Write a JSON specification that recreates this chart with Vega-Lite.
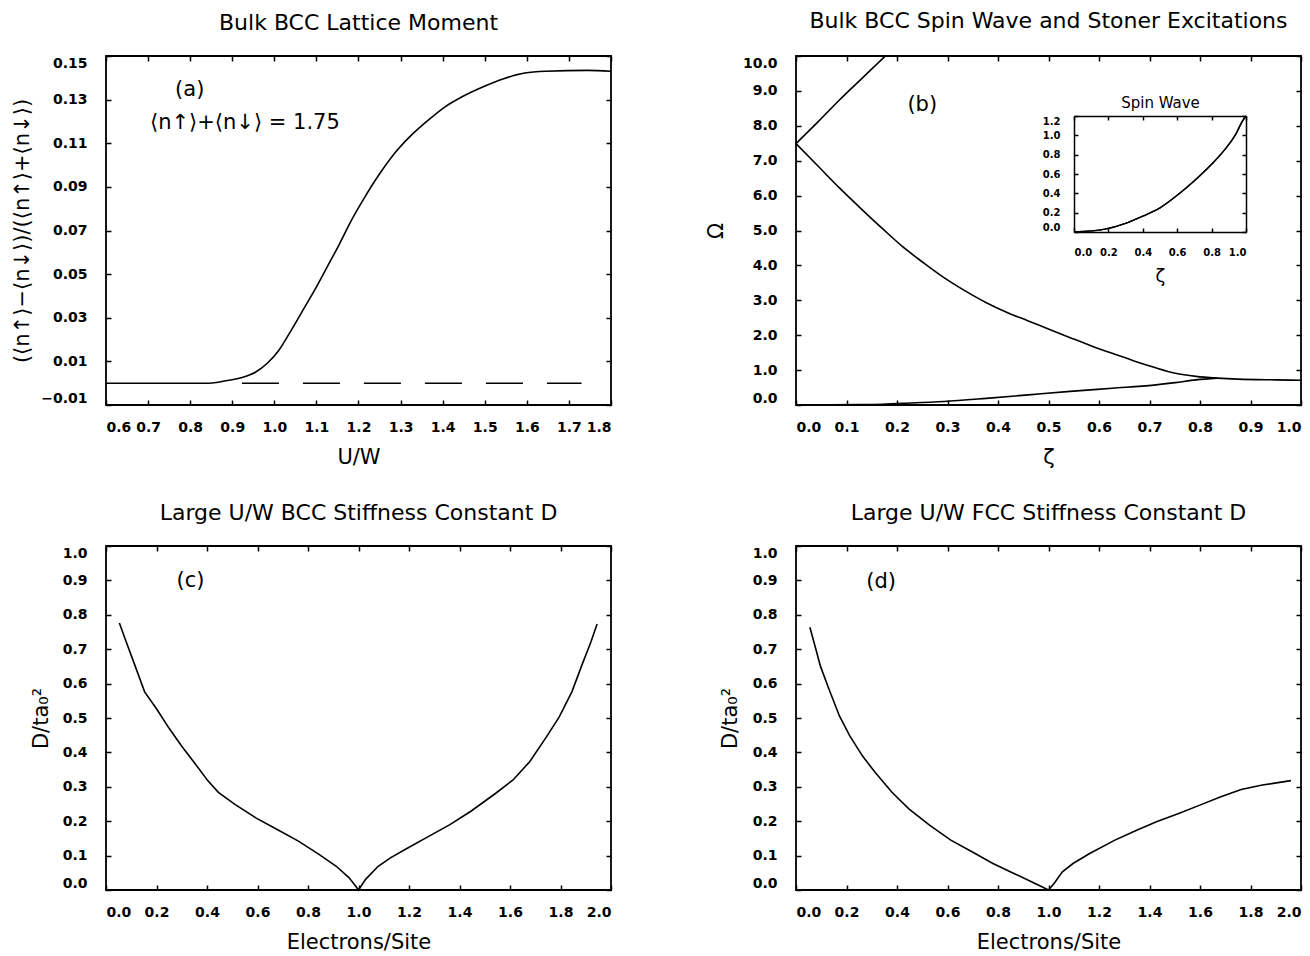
{
  "$schema": "https://vega.github.io/schema/vega-lite/v6.json",
  "background": "white",
  "padding": {"left": 10, "top": 8, "right": 5, "bottom": 0},
  "bounds": "flush",
  "columns": 2,
  "spacing": {"row": 141, "column": 185},
  "config": {
    "view": {"stroke": "black", "strokeWidth": 1.8},
    "axis": {
      "domain": false, "grid": false, "ticks": true, "tickSize": -5, "tickWidth": 1.5, "tickColor": "black",
      "labelFont": "DejaVu Sans", "labelFontWeight": "bold", "labelFontSize": 14, "labelColor": "black",
      "labelFlush": true, "labelOverlap": false,
      "titleFont": "DejaVu Sans", "titleFontWeight": "normal", "titleFontSize": 21, "titleColor": "black"
    },
    "axisX": {"labelPadding": 20, "titlePadding": 12},
    "axisY": {"labelPadding": 24},
    "title": {"font": "DejaVu Sans", "fontSize": 22, "fontWeight": "normal", "color": "black", "offset": 20, "anchor": "middle"},
    "line": {"color": "black", "strokeWidth": 1.6},
    "text": {"font": "DejaVu Sans", "fontSize": 21, "color": "black", "align": "center", "baseline": "middle"}
  },
  "datasets": {
    "a_solid": [
      {"x": 0.6, "y": 0.0}, {"x": 0.845, "y": 0.0}, {"x": 0.885, "y": 0.0011}, {"x": 0.925, "y": 0.0027},
      {"x": 0.955, "y": 0.005}, {"x": 0.985, "y": 0.0095}, {"x": 1.01, "y": 0.0149}, {"x": 1.035, "y": 0.0226},
      {"x": 1.065, "y": 0.0325}, {"x": 1.095, "y": 0.0424}, {"x": 1.125, "y": 0.0531}, {"x": 1.155, "y": 0.0639},
      {"x": 1.185, "y": 0.0753}, {"x": 1.215, "y": 0.0853}, {"x": 1.245, "y": 0.0945}, {"x": 1.285, "y": 0.1052},
      {"x": 1.325, "y": 0.1136}, {"x": 1.365, "y": 0.1205}, {"x": 1.405, "y": 0.1266}, {"x": 1.445, "y": 0.1312},
      {"x": 1.495, "y": 0.1358}, {"x": 1.545, "y": 0.1396}, {"x": 1.595, "y": 0.1422}, {"x": 1.645, "y": 0.143},
      {"x": 1.745, "y": 0.1434}, {"x": 1.8, "y": 0.143}
    ],
    "a_dash": [{"x": 0.923, "y": 0.0}, {"x": 1.73, "y": 0.0}],
    "a_text": [
      {"x": 0.799, "y": 0.1344, "t": "(a)"},
      {"x": 0.93, "y": 0.1192, "t": "⟨n↑⟩+⟨n↓⟩  =  1.75"}
    ],
    "b_main": [
      {"s": "A", "x": 0.0, "y": 7.49}, {"s": "A", "x": 0.044, "y": 8.12}, {"s": "A", "x": 0.086, "y": 8.74},
      {"s": "A", "x": 0.127, "y": 9.31}, {"s": "A", "x": 0.177, "y": 10.0},
      {"s": "B", "x": 0.0, "y": 7.49}, {"s": "B", "x": 0.044, "y": 6.84}, {"s": "B", "x": 0.086, "y": 6.22},
      {"s": "B", "x": 0.127, "y": 5.65}, {"s": "B", "x": 0.173, "y": 5.03}, {"s": "B", "x": 0.21, "y": 4.55},
      {"s": "B", "x": 0.252, "y": 4.08}, {"s": "B", "x": 0.293, "y": 3.65}, {"s": "B", "x": 0.335, "y": 3.27},
      {"s": "B", "x": 0.377, "y": 2.93}, {"s": "B", "x": 0.418, "y": 2.65}, {"s": "B", "x": 0.46, "y": 2.41},
      {"s": "B", "x": 0.501, "y": 2.17}, {"s": "B", "x": 0.543, "y": 1.93}, {"s": "B", "x": 0.584, "y": 1.7},
      {"s": "B", "x": 0.626, "y": 1.48}, {"s": "B", "x": 0.668, "y": 1.27}, {"s": "B", "x": 0.709, "y": 1.08},
      {"s": "B", "x": 0.751, "y": 0.91}, {"s": "B", "x": 0.792, "y": 0.82}, {"s": "B", "x": 0.834, "y": 0.77},
      {"s": "B", "x": 0.875, "y": 0.74}, {"s": "B", "x": 0.95, "y": 0.72}, {"s": "B", "x": 1.0, "y": 0.71},
      {"s": "C", "x": 0.0, "y": 0.0}, {"s": "C", "x": 0.127, "y": 0.01}, {"s": "C", "x": 0.21, "y": 0.05},
      {"s": "C", "x": 0.293, "y": 0.1}, {"s": "C", "x": 0.377, "y": 0.19}, {"s": "C", "x": 0.46, "y": 0.29},
      {"s": "C", "x": 0.543, "y": 0.39}, {"s": "C", "x": 0.626, "y": 0.48}, {"s": "C", "x": 0.709, "y": 0.57},
      {"s": "C", "x": 0.751, "y": 0.64}, {"s": "C", "x": 0.792, "y": 0.72}, {"s": "C", "x": 0.834, "y": 0.77}
    ],
    "b_text": [{"x": 0.25, "y": 8.6, "t": "(b)"}],
    "b_inset": [
      {"x": 0.0, "y": 0.0}, {"x": 0.18, "y": 0.03}, {"x": 0.3, "y": 0.09}, {"x": 0.4, "y": 0.164},
      {"x": 0.5, "y": 0.25}, {"x": 0.6, "y": 0.38}, {"x": 0.7, "y": 0.53}, {"x": 0.8, "y": 0.7},
      {"x": 0.88, "y": 0.86}, {"x": 0.94, "y": 1.01}, {"x": 0.98, "y": 1.15}, {"x": 1.0, "y": 1.2}
    ],
    "c_line": [
      {"x": 0.053, "y": 0.776}, {"x": 0.078, "y": 0.725}, {"x": 0.112, "y": 0.658}, {"x": 0.153, "y": 0.576},
      {"x": 0.2, "y": 0.527}, {"x": 0.25, "y": 0.47}, {"x": 0.3, "y": 0.418}, {"x": 0.35, "y": 0.37},
      {"x": 0.403, "y": 0.318}, {"x": 0.445, "y": 0.284}, {"x": 0.512, "y": 0.248}, {"x": 0.595, "y": 0.209},
      {"x": 0.678, "y": 0.176}, {"x": 0.762, "y": 0.142}, {"x": 0.845, "y": 0.103}, {"x": 0.912, "y": 0.069},
      {"x": 0.962, "y": 0.036}, {"x": 0.99, "y": 0.01}, {"x": 1.0, "y": 0.0}, {"x": 1.028, "y": 0.031},
      {"x": 1.078, "y": 0.069}, {"x": 1.128, "y": 0.094}, {"x": 1.195, "y": 0.122}, {"x": 1.278, "y": 0.156},
      {"x": 1.362, "y": 0.19}, {"x": 1.445, "y": 0.229}, {"x": 1.545, "y": 0.282}, {"x": 1.612, "y": 0.32},
      {"x": 1.678, "y": 0.373}, {"x": 1.745, "y": 0.446}, {"x": 1.795, "y": 0.503}, {"x": 1.845, "y": 0.576},
      {"x": 1.887, "y": 0.658}, {"x": 1.92, "y": 0.72}, {"x": 1.945, "y": 0.773}
    ],
    "c_text": [{"x": 0.335, "y": 0.898, "t": "(c)"}],
    "d_line": [
      {"x": 0.055, "y": 0.764}, {"x": 0.072, "y": 0.718}, {"x": 0.097, "y": 0.65}, {"x": 0.13, "y": 0.585},
      {"x": 0.172, "y": 0.506}, {"x": 0.213, "y": 0.448}, {"x": 0.263, "y": 0.39}, {"x": 0.313, "y": 0.342},
      {"x": 0.38, "y": 0.284}, {"x": 0.447, "y": 0.236}, {"x": 0.53, "y": 0.188}, {"x": 0.613, "y": 0.145},
      {"x": 0.697, "y": 0.111}, {"x": 0.78, "y": 0.077}, {"x": 0.863, "y": 0.048}, {"x": 0.947, "y": 0.019},
      {"x": 1.0, "y": 0.0}, {"x": 1.022, "y": 0.019}, {"x": 1.055, "y": 0.053}, {"x": 1.097, "y": 0.077},
      {"x": 1.163, "y": 0.106}, {"x": 1.263, "y": 0.145}, {"x": 1.347, "y": 0.173}, {"x": 1.43, "y": 0.199},
      {"x": 1.513, "y": 0.222}, {"x": 1.597, "y": 0.246}, {"x": 1.68, "y": 0.27}, {"x": 1.763, "y": 0.292},
      {"x": 1.847, "y": 0.305}, {"x": 1.96, "y": 0.318}
    ],
    "d_text": [{"x": 0.337, "y": 0.895, "t": "(d)"}]
  },
  "concat": [
    {
      "width": 505, "height": 349,
      "title": "Bulk BCC Lattice Moment",
      "layer": [
        {
          "data": {"name": "a_solid"},
          "mark": {"type": "line", "interpolate": "monotone"},
          "encoding": {
            "x": {"field": "x", "type": "quantitative", "scale": {"domain": [0.6, 1.8], "nice": false, "zero": false},
                  "axis": {"orient": "bottom", "values": [0.6, 0.7, 0.8, 0.9, 1.0, 1.1, 1.2, 1.3, 1.4, 1.5, 1.6, 1.7, 1.8], "format": ".1f", "title": "U/W"}},
            "y": {"field": "y", "type": "quantitative", "scale": {"domain": [-0.01, 0.15], "nice": false, "zero": false},
                  "axis": {"orient": "left", "values": [-0.01, 0.01, 0.03, 0.05, 0.07, 0.09, 0.11, 0.13, 0.15], "format": ".2f", "title": "(⟨n↑⟩−⟨n↓⟩)/(⟨n↑⟩+⟨n↓⟩)", "titleFontSize": 21, "titlePadding": 8}}
          }
        },
        {
          "data": {"name": "a_dash"},
          "mark": {"type": "line", "strokeDash": [37, 24]},
          "encoding": {
            "x": {"field": "x", "type": "quantitative", "scale": {"domain": [0.6, 1.8], "nice": false, "zero": false},
                  "axis": {"orient": "top", "values": [0.6, 0.7, 0.8, 0.9, 1.0, 1.1, 1.2, 1.3, 1.4, 1.5, 1.6, 1.7, 1.8], "labels": false, "title": null}},
            "y": {"field": "y", "type": "quantitative", "scale": {"domain": [-0.01, 0.15], "nice": false, "zero": false},
                  "axis": {"orient": "right", "values": [-0.01, 0.01, 0.03, 0.05, 0.07, 0.09, 0.11, 0.13, 0.15], "labels": false, "title": null}}
          }
        },
        {
          "data": {"name": "a_text"},
          "mark": {"type": "text"},
          "encoding": {
            "x": {"field": "x", "type": "quantitative", "scale": {"domain": [0.6, 1.8], "nice": false, "zero": false}, "axis": null},
            "y": {"field": "y", "type": "quantitative", "scale": {"domain": [-0.01, 0.15], "nice": false, "zero": false}, "axis": null},
            "text": {"field": "t"}
          }
        }
      ],
      "resolve": {"axis": {"x": "independent", "y": "independent"}}
    },
    {
      "width": 505, "height": 349,
      "title": "Bulk BCC Spin Wave and Stoner Excitations",
      "layer": [
        {
          "data": {"name": "b_main"},
          "mark": {"type": "line", "interpolate": "monotone"},
          "encoding": {
            "x": {"field": "x", "type": "quantitative", "scale": {"domain": [0, 1], "nice": false, "zero": false},
                  "axis": {"orient": "bottom", "values": [0, 0.1, 0.2, 0.3, 0.4, 0.5, 0.6, 0.7, 0.8, 0.9, 1.0], "format": ".1f", "title": "ζ"}},
            "y": {"field": "y", "type": "quantitative", "scale": {"domain": [0, 10], "nice": false, "zero": false},
                  "axis": {"orient": "left", "values": [0, 1, 2, 3, 4, 5, 6, 7, 8, 9, 10], "format": ".1f", "title": "Ω", "titlePadding": 16}},
            "detail": {"field": "s"}
          }
        },
        {
          "data": {"name": "b_text"},
          "mark": {"type": "text"},
          "encoding": {
            "x": {"field": "x", "type": "quantitative", "scale": {"domain": [0, 1], "nice": false, "zero": false},
                  "axis": {"orient": "top", "values": [0, 0.1, 0.2, 0.3, 0.4, 0.5, 0.6, 0.7, 0.8, 0.9, 1.0], "labels": false, "title": null}},
            "y": {"field": "y", "type": "quantitative", "scale": {"domain": [0, 10], "nice": false, "zero": false},
                  "axis": {"orient": "right", "values": [0, 1, 2, 3, 4, 5, 6, 7, 8, 9, 10], "labels": false, "title": null}},
            "text": {"field": "t"}
          }
        },
        {
          "data": {"name": "b_inset"},
          "mark": {"type": "line", "interpolate": "monotone", "strokeWidth": 1.4},
          "encoding": {
            "x": {"field": "x", "type": "quantitative", "scale": {"domain": [0, 1], "range": [278, 450], "nice": false, "zero": false},
                  "axis": {"orient": "bottom", "offset": -173, "domain": true, "domainColor": "black", "domainWidth": 1.5, "tickSize": -4,
                           "values": [0, 0.2, 0.4, 0.6, 0.8, 1.0], "format": ".1f", "labelFontSize": 10, "labelPadding": 19,
                           "title": "ζ", "titleFontSize": 18, "titlePadding": 10}},
            "y": {"field": "y", "type": "quantitative", "scale": {"domain": [0, 1.2], "range": [176, 60], "nice": false, "zero": false},
                  "axis": {"orient": "left", "offset": -278, "domain": true, "domainColor": "black", "domainWidth": 1.5, "tickSize": -4,
                           "values": [0, 0.2, 0.4, 0.6, 0.8, 1.0, 1.2], "format": ".1f", "labelFontSize": 10, "labelPadding": 18, "title": null}}
          }
        },
        {
          "data": {"name": "b_inset"},
          "mark": {"type": "line", "interpolate": "monotone", "strokeWidth": 1.4},
          "encoding": {
            "x": {"field": "x", "type": "quantitative", "scale": {"domain": [0, 1], "range": [278, 450], "nice": false, "zero": false},
                  "axis": {"orient": "top", "offset": -60, "domain": true, "domainColor": "black", "domainWidth": 1.5, "tickSize": -4,
                           "values": [0, 0.2, 0.4, 0.6, 0.8, 1.0], "labels": false,
                           "title": "Spin Wave", "titleFontSize": 15, "titlePadding": 5}},
            "y": {"field": "y", "type": "quantitative", "scale": {"domain": [0, 1.2], "range": [176, 60], "nice": false, "zero": false},
                  "axis": {"orient": "right", "offset": -55, "domain": true, "domainColor": "black", "domainWidth": 1.5, "tickSize": -4,
                           "values": [0, 0.2, 0.4, 0.6, 0.8, 1.0, 1.2], "labels": false, "title": null}}
          }
        }
      ],
      "resolve": {"scale": {"x": "independent", "y": "independent"}, "axis": {"x": "independent", "y": "independent"}}
    },
    {
      "width": 505, "height": 344,
      "title": "Large U/W BCC Stiffness Constant D",
      "layer": [
        {
          "data": {"name": "c_line"},
          "mark": {"type": "line"},
          "encoding": {
            "x": {"field": "x", "type": "quantitative", "scale": {"domain": [0, 2], "nice": false, "zero": false},
                  "axis": {"orient": "bottom", "values": [0, 0.2, 0.4, 0.6, 0.8, 1.0, 1.2, 1.4, 1.6, 1.8, 2.0], "format": ".1f", "title": "Electrons/Site"}},
            "y": {"field": "y", "type": "quantitative", "scale": {"domain": [0, 1], "nice": false, "zero": false},
                  "axis": {"orient": "left", "values": [0, 0.1, 0.2, 0.3, 0.4, 0.5, 0.6, 0.7, 0.8, 0.9, 1.0], "format": ".1f", "title": "D/ta₀²", "titlePadding": 11}}
          }
        },
        {
          "data": {"name": "c_text"},
          "mark": {"type": "text"},
          "encoding": {
            "x": {"field": "x", "type": "quantitative", "scale": {"domain": [0, 2], "nice": false, "zero": false},
                  "axis": {"orient": "top", "values": [0, 0.2, 0.4, 0.6, 0.8, 1.0, 1.2, 1.4, 1.6, 1.8, 2.0], "labels": false, "title": null}},
            "y": {"field": "y", "type": "quantitative", "scale": {"domain": [0, 1], "nice": false, "zero": false},
                  "axis": {"orient": "right", "values": [0, 0.1, 0.2, 0.3, 0.4, 0.5, 0.6, 0.7, 0.8, 0.9, 1.0], "labels": false, "title": null}},
            "text": {"field": "t"}
          }
        }
      ],
      "resolve": {"axis": {"x": "independent", "y": "independent"}}
    },
    {
      "width": 505, "height": 344,
      "title": "Large U/W FCC Stiffness Constant D",
      "layer": [
        {
          "data": {"name": "d_line"},
          "mark": {"type": "line"},
          "encoding": {
            "x": {"field": "x", "type": "quantitative", "scale": {"domain": [0, 2], "nice": false, "zero": false},
                  "axis": {"orient": "bottom", "values": [0, 0.2, 0.4, 0.6, 0.8, 1.0, 1.2, 1.4, 1.6, 1.8, 2.0], "format": ".1f", "title": "Electrons/Site"}},
            "y": {"field": "y", "type": "quantitative", "scale": {"domain": [0, 1], "nice": false, "zero": false},
                  "axis": {"orient": "left", "values": [0, 0.1, 0.2, 0.3, 0.4, 0.5, 0.6, 0.7, 0.8, 0.9, 1.0], "format": ".1f", "title": "D/ta₀²", "titlePadding": 12}}
          }
        },
        {
          "data": {"name": "d_text"},
          "mark": {"type": "text"},
          "encoding": {
            "x": {"field": "x", "type": "quantitative", "scale": {"domain": [0, 2], "nice": false, "zero": false},
                  "axis": {"orient": "top", "values": [0, 0.2, 0.4, 0.6, 0.8, 1.0, 1.2, 1.4, 1.6, 1.8, 2.0], "labels": false, "title": null}},
            "y": {"field": "y", "type": "quantitative", "scale": {"domain": [0, 1], "nice": false, "zero": false},
                  "axis": {"orient": "right", "values": [0, 0.1, 0.2, 0.3, 0.4, 0.5, 0.6, 0.7, 0.8, 0.9, 1.0], "labels": false, "title": null}},
            "text": {"field": "t"}
          }
        }
      ],
      "resolve": {"axis": {"x": "independent", "y": "independent"}}
    }
  ]
}
